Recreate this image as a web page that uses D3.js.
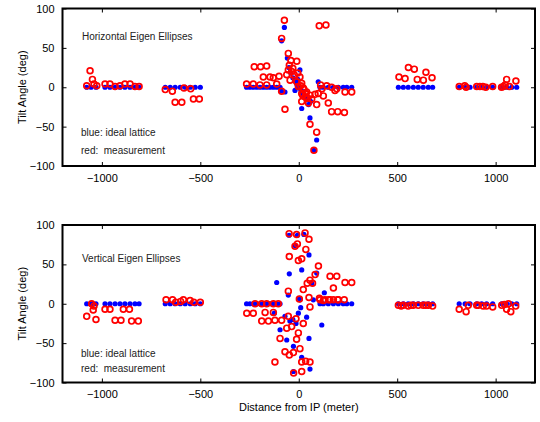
<!DOCTYPE html>
<html><head><meta charset="utf-8">
<script src="https://cdn.jsdelivr.net/npm/d3@7"></script>
<style>
html,body{margin:0;padding:0;background:#fff;}
svg{display:block;font-family:"Liberation Sans",Arial,Helvetica,sans-serif;}
</style></head>
<body>
<script>
// ---------- DATA ----------
const xTicks = [-1000, -500, 0, 500, 1000];
const yTicks = [-100, -50, 0, 50, 100];
const xDomain = [-1200, 1200];
const yDomain = [-100, 100];

// BPM s-positions of ideal lattice (outer arcs, tilt 0)
const latticeOuter = [-1077,-1055,-1030,-984,-959,-933,-908,-883,-857,-832,-811,
  -678,-653,-628,-602,-577,-551,-526,-500,
  -265,-248,-231,-214,-197,-180,-163,-146,-129,-112,-95,
  108,125,150,176,201,226,244,269,
  506,531,556,582,607,632,658,680,
  815,845,870,904,929,954,985,1031,1056,1082,1107];

// Horizontal plane, ideal lattice (near IP), [s, tilt]
const hIdealIR = [[-73,76],[-87,59],[-58,37],[-50,25],[-40,18],[-30,12],[-20,8],[-10,4],[6,22],
  [0,0],[10,-3],[20,-8],[27,-10],[40,-16],[15,-27],[57,-39],[91,-67],[77,-80],[-70,-6],
  [-90,-5],[99,7],[60,-18],[-5,10],[-19,-4],[15,-5],[50,-22],[35,-14]];
// Horizontal plane, measurement [s, tilt]
const hMeas = [
  [-1077,2],[-1060,21],[-1048,10],[-1040,4],[-1026,2],[-984,4],[-959,4],[-933,1],[-908,2],[-883,4],[-857,4],[-832,1],[-811,1],
  [-678,-3],[-642,-5],[-628,-19],[-594,-19],[-583,-1],[-549,-2],[-535,-15],[-505,-15],
  [-265,4],[-231,4],[-226,26],[-194,26],[-163,27],[-180,13],[-146,13],[-129,12],[-100,14],[-112,4],[-163,3],[-87,-5],[-197,3],
  [-73,85],[-87,62],[-53,43],[-10,33],[-48,28],[-53,22],[-36,20],[-23,16],[-61,16],[6,13],[-44,9],[-10,7],
  [15,5],[-2,1],[23,-1],[40,-6],[15,-8],[57,-10],[32,-12],[66,-15],[15,-18],[49,-20],[83,-9],[91,-22],
  [57,-47],[91,-57],[77,-80],[-70,-28],[104,78],[138,79],
  [27,-3],[36,-8],[45,-14],[-30,24],[-40,34],[-5,18],[10,2],[20,-10],
  [111,3],[142,2],[167,0],[193,-2],[99,-8],[125,-11],[150,-20],[167,-31],[198,-31],[232,-32],[235,-6],[269,-6],[118,-2],[184,-4],
  [509,13],[540,11],[557,25],[587,23],[602,10],[633,9],[646,19],[677,12],
  [815,1],[843,2],[850,0],[904,1],[920,1],[935,1],[950,0],[985,1],[1030,0],[1040,1],[1048,3],[1056,10],[1070,1],[1103,8]];

// Vertical plane, ideal lattice (near IP), [s, tilt]
const vIdealIR = [[-49,87],[-7,87],[26,88],[-19,74],[52,62],[15,43],[-48,38],[-112,27],[91,39],[66,26],
  [-53,11],[6,5],[130,14],[74,5],[-124,-12],[-70,-16],[-95,-33],[117,-27],[-14,-25],[-61,-46],
  [52,-44],[-27,-54],[15,-68],[57,-83],[-27,-86],[-2,-12],[-30,-20],[40,-17],[10,-5],[3,7],[-45,-22]];
// Vertical plane, measurement [s, tilt]
const vMeas = [
  [-1077,-16],[-1052,0],[-1044,-8],[-1030,-20],[-1040,-3],[-984,-7],[-959,-7],[-933,-21],[-903,-21],[-891,-7],[-860,-7],[-849,-22],[-815,-22],
  [-674,5],[-641,5],[-625,2],[-600,3],[-586,5],[-552,4],[-533,2],[-500,2],
  [-222,0],[-188,0],[-163,0],[-129,0],[-104,0],[-264,-12],[-231,-12],[-171,-11],[-129,-11],
  [-188,-22],[-154,-22],[-121,-21],[-87,-21],[-53,-16],[-61,-31],[-36,-29],[-14,-19],[23,-25],[-2,-37],
  [-95,-44],[-11,-45],[-70,-61],[-48,-65],[-27,-62],[6,-57],[-121,-74],[15,-74],[35,-73],[57,-74],[-26,-88],[15,-86],
  [-49,89],[-11,88],[32,90],[52,82],[-19,73],[-7,76],[36,69],[-48,60],[-2,55],[15,57],[100,48],[83,37],
  [57,30],[43,26],[70,26],[159,35],[193,35],[176,20],[23,18],[-53,16],[52,8],[3,6],[105,7],[125,4],[151,5],[176,5],[201,5],[57,-4],
  [108,5],[133,5],[159,5],[198,5],[231,5],[235,27],[269,27],
  [506,-2],[520,-3],[531,-2],[556,-3],[570,-2],[582,-2],[607,-2],[632,-2],[645,-2],[658,-2],[680,-3],
  [815,-7],[850,-10],[861,-2],[904,-2],[912,-2],[937,-3],[954,-3],[985,-4],[1031,-2],[1045,-1],[1056,-7],[1065,0],[1077,-10],[1102,-3]];

const panels = [
  {title: "Horizontal Eigen Ellipses", ideal: latticeOuter.map(s => [s, 0]).concat(hIdealIR), meas: hMeas,
   top: 8.5, bottom: 166, titleAt: 65, blueAt: -57.5, redAt: -80},
  {title: "Vertical Eigen Ellipses", ideal: latticeOuter.map(s => [s, 0]).concat(vIdealIR), meas: vMeas,
   top: 225, bottom: 382.5, titleAt: 57, blueAt: -63, redAt: -82}
];

// ---------- DRAW ----------
const W = 540, H = 422;
const left = 62.5, right = 535;
const svg = d3.select("body").append("svg").attr("width", W).attr("height", H);
const x = d3.scaleLinear().domain(xDomain).range([left, right]);
const fmt = d => d < 0 ? "\u2212" + Math.abs(d) : String(d);

panels.forEach(p => {
  const y = d3.scaleLinear().domain(yDomain).range([p.bottom, p.top]);
  const g = svg.append("g");

  const clipId = "clip" + Math.round(p.top);
  g.append("clipPath").attr("id", clipId).append("rect")
    .attr("x", left).attr("y", p.top).attr("width", right - left).attr("height", p.bottom - p.top);
  const pts = g.append("g").attr("clip-path", `url(#${clipId})`);

  pts.selectAll("circle.ideal").data(p.ideal).join("circle").attr("class", "ideal")
    .attr("cx", d => x(d[0])).attr("cy", d => y(d[1])).attr("r", 2.6).attr("fill", "#0000ff");
  pts.selectAll("circle.meas").data(p.meas).join("circle").attr("class", "meas")
    .attr("cx", d => x(d[0])).attr("cy", d => y(d[1])).attr("r", 2.9)
    .attr("fill", "none").attr("stroke", "#ff0000").attr("stroke-width", 1.7);

  // axes with inward ticks
  const ax = (gen, tx, ty) => {
    const a = g.append("g").attr("transform", `translate(${tx},${ty})`).call(gen);
    a.select(".domain").remove();
    a.selectAll(".tick line").attr("stroke", "#000").attr("stroke-width", 1);
    a.selectAll("text").attr("fill", "#000").style("font-size", "11px")
      .style("font-family", '"Liberation Sans",Arial,sans-serif');
    return a;
  };
  ax(d3.axisBottom(x).tickValues(xTicks).tickFormat(fmt).tickSize(-4).tickPadding(8), 0, p.bottom);
  ax(d3.axisTop(x).tickValues(xTicks).tickFormat("").tickSize(-4), 0, p.top);
  ax(d3.axisLeft(y).tickValues(yTicks).tickFormat(fmt).tickSize(-4).tickPadding(8), left, 0);
  ax(d3.axisRight(y).tickValues(yTicks).tickFormat("").tickSize(-4), right, 0);

  g.append("rect").attr("x", left).attr("y", p.top).attr("width", right - left).attr("height", p.bottom - p.top)
    .attr("fill", "none").attr("stroke", "#000").attr("stroke-width", 2);

  g.append("text").attr("x", 22).attr("y", (p.top + p.bottom) / 2)
    .attr("transform", `rotate(-90,22,${(p.top + p.bottom) / 2})`).attr("dy", "0.35em")
    .attr("text-anchor", "middle").style("font-size", "11px").text("Tilt Angle (deg)");

  g.append("text").attr("x", 82).attr("y", y(p.titleAt)).attr("dy", "0.35em").style("font-size", "10px").attr("fill", "#222").text(p.title);
  g.append("text").attr("x", 81).attr("y", y(p.blueAt)).attr("dy", "0.35em").style("font-size", "10px").attr("fill", "#222").text("blue: ideal lattice");
  g.append("text").attr("x", 81).attr("y", y(p.redAt)).attr("dy", "0.35em").style("font-size", "10px").attr("fill", "#222")
    .style("white-space", "pre").text("red:  measurement");
});

svg.append("text").attr("x", x(0)).attr("y", 411).attr("text-anchor", "middle")
  .style("font-size", "11px").text("Distance from IP (meter)");
</script>
</body></html>
